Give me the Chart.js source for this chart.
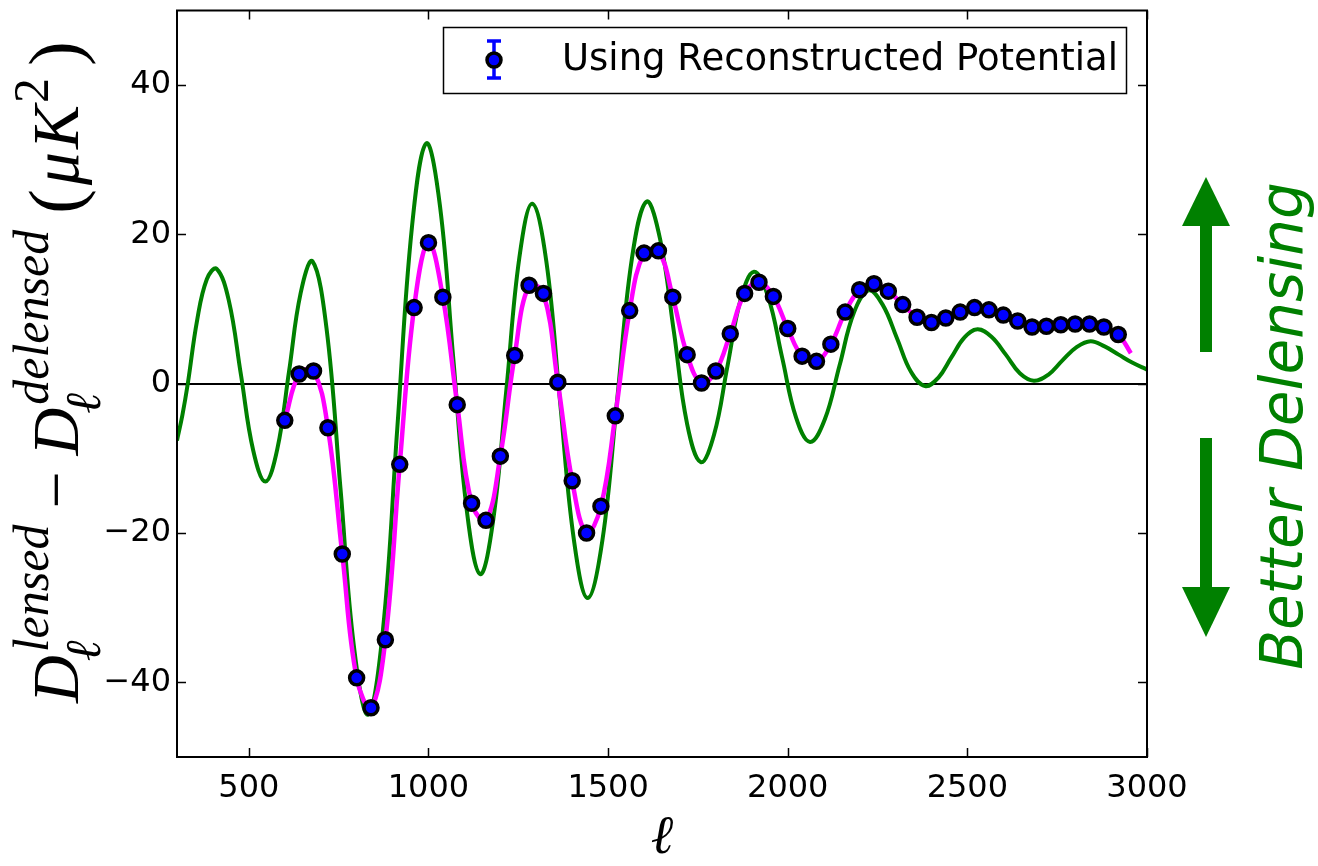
<!DOCTYPE html>
<html>
<head>
<meta charset="utf-8">
<script src="https://cdn.jsdelivr.net/npm/chart.js@4"></script>
<style>
  body { margin: 0; background: #fff; }
  #wrap { width: 1318px; height: 866px; }
</style>
</head>
<body>
<div id="wrap"><canvas id="deltaChart" width="1318" height="866"></canvas></div>
<script>
// theory curve (green)
var theoryEll = [300, 315, 330, 356, 383, 410,
  444, 478, 512, 546,
  579, 612, 644, 677,
  716, 755, 793, 832,
  873, 913, 954, 994,
  1032, 1069, 1107, 1144,
  1180, 1217, 1253, 1289,
  1328, 1366, 1405, 1443,
  1484, 1525, 1566, 1607,
  1645, 1683, 1720, 1758,
  1795, 1832, 1869, 1906,
  1945, 1984, 2023, 2062,
  2103, 2144, 2184, 2225,
  2264, 2304, 2343, 2382,
  2419, 2455, 2492, 2528,
  2567, 2607, 2646, 2685,
  2725, 2764, 2804, 2843,
  2882, 2921, 2960, 3000];
var theoryVal = [-7.6, -4.2, 0, 8.5, 14.0, 15.4,
  11.2, 1.2, -8.9, -13.1,
  -8.8, 1.7, 12.1, 16.4,
  7.5, -14.0, -35.4, -44.3,
  -33.1, -6.1, 21.0, 32.2,
  23.8, 3.4, -17.1, -25.5,
  -18.3, -0.7, 16.9, 24.1,
  16.4, -2.3, -21.0, -28.7,
  -21.0, -2.2, 16.7, 24.4,
  19.3, 7.0, -5.4, -10.5,
  -6.8, 2.3, 11.3, 15.0,
  11.7, 3.6, -4.5, -7.8,
  -4.8, 2.4, 9.5, 12.5,
  10.6, 6.1, 1.6, -0.3,
  0.8, 3.5, 6.2, 7.3,
  6.3, 3.9, 1.4, 0.4,
  1.2, 3.1, 4.9, 5.7,
  5.0, 3.9, 2.8, 1.9];

// reconstructed potential points
var recoEll = [600, 640, 680, 720, 760, 800, 840, 880, 920, 960, 1000, 1040, 1080, 1120,
  1160, 1200, 1240, 1280, 1320, 1360, 1400, 1440, 1480, 1520, 1560, 1600, 1640, 1680,
  1720, 1760, 1800, 1840, 1880, 1920, 1960, 2000, 2040, 2080, 2120, 2160, 2200, 2240,
  2280, 2320, 2360, 2400, 2440, 2480, 2520, 2560, 2600, 2640, 2680, 2720, 2760, 2800,
  2840, 2880, 2920];
var recoVal = [-4.9, 1.3, 1.7, -5.9, -22.8, -39.4, -43.4, -34.3, -10.8, 10.2, 18.9, 11.6,
  -2.8, -16.0, -18.3, -9.7, 3.8, 13.2, 12.1, 0.2, -13.0, -20.0, -16.4, -4.3, 9.8, 17.5,
  17.8, 11.6, 3.9, 0.1, 1.7, 6.7, 12.1, 13.6, 11.7, 7.4, 3.7, 3.0, 5.3, 9.6, 12.6, 13.4,
  12.4, 10.6, 8.9, 8.2, 8.8, 9.6, 10.2, 9.9, 9.2, 8.4, 7.6, 7.7, 7.9, 8.0, 8.0, 7.6, 6.6];

// end of the magenta fit beyond the last point
var fitEndEll = [2955];
var fitEndVal = [4.1];

var xTicks = [500, 1000, 1500, 2000, 2500, 3000];
var yTicks = [-40, -20, 0, 20, 40];

function pairs(xs, ys) {
  return xs.map(function(x, i) { return { x: x, y: ys[i] }; });
}

var serif = '"Liberation Serif", "DejaVu Serif", serif';

var extras = {
  id: 'extras',
  afterDraw: function(chart) {
    var ctx = chart.ctx, a = chart.chartArea;
    var xs = chart.scales.x, ys = chart.scales.y;
    ctx.save();

    // frame + inward ticks on all sides
    ctx.strokeStyle = '#000';
    ctx.lineWidth = 2;
    ctx.strokeRect(a.left, a.top, a.right - a.left, a.bottom - a.top);
    ctx.lineWidth = 1.5;
    ctx.beginPath();
    xs.ticks.forEach(function(t) {
      var p = Math.round(xs.getPixelForValue(t.value)) + 0.5;
      ctx.moveTo(p, a.bottom); ctx.lineTo(p, a.bottom - 9);
      ctx.moveTo(p, a.top); ctx.lineTo(p, a.top + 9);
    });
    ys.ticks.forEach(function(t) {
      var p = Math.round(ys.getPixelForValue(t.value)) + 0.5;
      ctx.moveTo(a.left, p); ctx.lineTo(a.left + 9, p);
      ctx.moveTo(a.right, p); ctx.lineTo(a.right - 9, p);
    });
    ctx.stroke();

    // legend
    var lx = 443, ly = 27, lw = 683, lh = 66;
    ctx.fillStyle = '#fff';
    ctx.fillRect(lx, ly, lw, lh);
    ctx.lineWidth = 1.5;
    ctx.strokeStyle = '#000';
    ctx.strokeRect(lx + 0.5, ly + 0.5, lw, lh);
    var mx = 494, my = 60;
    ctx.strokeStyle = '#0000ff';
    ctx.lineWidth = 3.5;
    ctx.beginPath();
    ctx.moveTo(mx, 41); ctx.lineTo(mx, 78);
    ctx.moveTo(mx - 7, 41); ctx.lineTo(mx + 7, 41);
    ctx.moveTo(mx - 7, 78); ctx.lineTo(mx + 7, 78);
    ctx.stroke();
    ctx.beginPath();
    ctx.arc(mx, my, 7, 0, Math.PI * 2);
    ctx.fillStyle = '#0000ff';
    ctx.fill();
    ctx.lineWidth = 3.5;
    ctx.strokeStyle = '#000';
    ctx.stroke();
    ctx.fillStyle = '#000';
    ctx.font = '37px "DejaVu Sans"';
    ctx.textBaseline = 'middle';
    ctx.fillText('Using Reconstructed Potential', 562, my);

    // y axis label, math style
    ctx.save();
    ctx.translate(78, 703);
    ctx.rotate(-Math.PI / 2);
    ctx.textBaseline = 'alphabetic';
    ctx.fillStyle = '#000';
    var base = 66, sc = 50, cx = 0;
    function put(txt, font, x, y) {
      ctx.font = font;
      ctx.fillText(txt, x, y);
      return ctx.measureText(txt).width;
    }
    function dTerm(sup) {
      var w = put('D', 'italic ' + base + 'px ' + serif, cx, 0);
      var ws = put(sup, 'italic ' + sc + 'px ' + serif, cx + w + 3, -30);
      var wb = put('ℓ', 'italic ' + sc + 'px ' + serif, cx + w - 6, 22);
      cx += w + Math.max(ws + 3, wb - 6);
    }
    dTerm('lensed');
    cx += 16;
    cx += put('−', base + 'px ' + serif, cx, 0);
    cx += 16;
    dTerm('delensed');
    cx += 16;
    cx += put('(', '74px ' + serif, cx, 2) + 4;
    cx += put('μ', 'italic ' + base + 'px ' + serif, cx, 0) + 3;
    cx += put('K', 'italic ' + base + 'px ' + serif, cx, 0) + 2;
    cx += put('2', sc + 'px ' + serif, cx, -30) + 12;
    cx += put(')', '74px ' + serif, cx, 2);
    ctx.restore();

    // "Better Delensing" with arrows
    var g = '#008000';
    ctx.fillStyle = g;
    var ax = a.right + 59;
    ctx.fillRect(ax - 6, 224, 12, 128);
    ctx.beginPath();
    ctx.moveTo(ax, 177); ctx.lineTo(ax - 24, 226); ctx.lineTo(ax + 24, 226); ctx.closePath();
    ctx.fill();
    ctx.fillRect(ax - 6, 438, 12, 150);
    ctx.beginPath();
    ctx.moveTo(ax, 637); ctx.lineTo(ax - 24, 587); ctx.lineTo(ax + 24, 587); ctx.closePath();
    ctx.fill();
    ctx.save();
    ctx.translate(1302, 426);
    ctx.rotate(-Math.PI / 2);
    ctx.textAlign = 'center';
    ctx.textBaseline = 'alphabetic';
    ctx.font = 'italic 58px "DejaVu Sans"';
    ctx.fillText('Better Delensing', 0, 0);
    ctx.restore();

    ctx.restore();
  }
};

var ctx = document.getElementById('deltaChart').getContext('2d');
new Chart(ctx, {
  type: 'line',
  data: {
    datasets: [{
      label: 'Using Reconstructed Potential',
      data: pairs(recoEll, recoVal),
      showLine: false,
      pointRadius: 7,
      pointBorderWidth: 3.5,
      pointBackgroundColor: '#0000ff',
      pointBorderColor: '#000',
      order: 0
    }, {
      label: 'fit',
      data: pairs(recoEll.concat(fitEndEll), recoVal.concat(fitEndVal)),
      borderColor: '#ff00ff',
      borderWidth: 4.5,
      pointRadius: 0,
      tension: 0.4,
      order: 1
    }, {
      label: 'theory',
      data: pairs(theoryEll, theoryVal),
      borderColor: '#008000',
      borderWidth: 4,
      pointRadius: 0,
      tension: 0.4,
      order: 2
    }]
  },
  options: {
    responsive: false,
    animation: false,
    devicePixelRatio: 1,
    layout: { padding: { left: 0, right: 171, top: 10, bottom: 0 } },
    plugins: {
      legend: { display: false },
      tooltip: { enabled: false }
    },
    scales: {
      x: {
        type: 'linear',
        min: 300,
        max: 3000,
        afterBuildTicks: function(s) { s.ticks = xTicks.map(function(v) { return { value: v }; }); },
        afterFit: function(s) { s.height = 109; s.paddingLeft = 0; s.paddingRight = 0; },
        grid: { display: false, drawTicks: false },
        border: { display: false },
        ticks: {
          color: '#000',
          padding: 12,
          maxRotation: 0,
          autoSkip: false,
          font: { family: 'DejaVu Sans', size: 32 },
          callback: function(v) { return String(v); }
        },
        title: {
          display: true,
          text: 'ℓ',
          color: '#000',
          font: { family: serif, style: 'italic', size: 54, lineHeight: 1 },
          padding: { top: 0, bottom: 0 }
        }
      },
      y: {
        min: -50,
        max: 50,
        afterBuildTicks: function(s) { s.ticks = yTicks.map(function(v) { return { value: v }; }); },
        afterFit: function(s) { s.width = 177; s.paddingTop = 0; s.paddingBottom = 0; },
        grid: {
          drawTicks: false,
          lineWidth: 2,
          color: function(c) { return c.tick && c.tick.value === 0 ? '#000' : 'rgba(0,0,0,0)'; }
        },
        border: { display: false },
        ticks: {
          color: '#000',
          padding: 6,
          font: { family: 'DejaVu Sans', size: 32 },
          callback: function(v) { return String(v).replace('-', '\u2212'); }
        }
      }
    }
  },
  plugins: [extras]
});
</script>
</body>
</html>
